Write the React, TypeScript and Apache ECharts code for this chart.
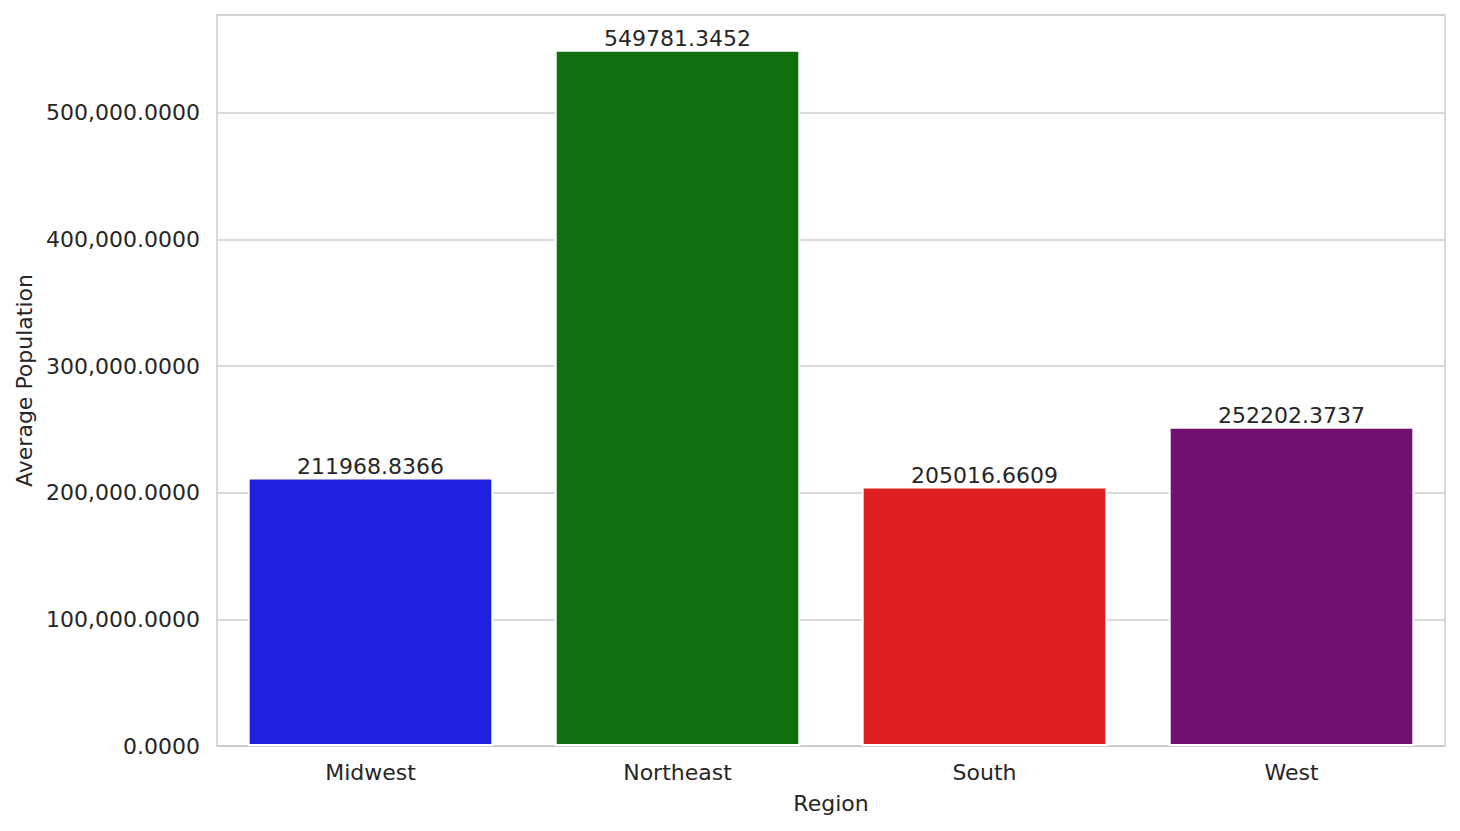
import React, { useEffect, useRef } from "react";
import * as echarts from "echarts";

const categories = ["Midwest", "Northeast", "South", "West"];
const values = [211968.8366, 549781.3452, 205016.6609, 252202.3737];
const barColors = ["#2020df", "#107010", "#df2020", "#701070"];
const yTicks = [0, 100000, 200000, 300000, 400000, 500000];

const FONT = "DejaVu Sans";
const TEXT = "#262626";
const GRID = "#cccccc";
const FS = 22;

function fmtTick(v: number): string {
  return v.toLocaleString("en-US", { minimumFractionDigits: 4, maximumFractionDigits: 4 });
}

export default function App() {
  const ref = useRef<HTMLDivElement>(null);
  useEffect(() => {
    if (!ref.current) return;
    const chart = echarts.init(ref.current, null, { renderer: "svg" });
    const yMax = Math.max(...values) * 1.05;
    chart.setOption({
      animation: false,
      backgroundColor: "#ffffff",
      grid: {
        left: 217,
        right: 15,
        top: 15,
        bottom: 85,
        show: true,
        borderColor: GRID,
        borderWidth: 1.5,
        backgroundColor: "transparent",
      },
      xAxis: {
        type: "category",
        data: categories,
        name: "Region",
        nameLocation: "middle",
        nameGap: 46,
        nameTextStyle: { fontFamily: FONT, fontSize: FS, color: TEXT },
        axisTick: { show: false },
        axisLine: { show: true, lineStyle: { color: GRID, width: 1.5 } },
        axisLabel: { fontFamily: FONT, fontSize: FS, color: TEXT, margin: 15 },
        splitLine: { show: false },
      },
      yAxis: {
        type: "value",
        min: 0,
        max: yMax,
        interval: 100000,
        name: "Average Population",
        nameLocation: "middle",
        nameGap: 180,
        nameTextStyle: { fontFamily: FONT, fontSize: FS, color: TEXT },
        axisLine: { show: false },
        axisTick: { show: false },
        axisLabel: {
          fontFamily: FONT,
          fontSize: FS,
          color: TEXT,
          margin: 17,
          showMaxLabel: false,
          formatter: (v: number) => (yTicks.includes(Math.round(v)) ? fmtTick(v) : ""),
        },
        splitLine: { show: true, lineStyle: { color: GRID, width: 1.5 } },
      },
      series: [
        {
          type: "bar",
          barWidth: "80%",
          data: values.map((v, i) => ({
            value: v,
            itemStyle: { color: barColors[i] },
          })),
          itemStyle: { borderColor: "#ffffff", borderWidth: 2 },
          label: {
            show: true,
            position: "top",
            distance: 0,
            fontFamily: FONT,
            fontSize: FS,
            color: TEXT,
            formatter: (p: any) => Number(p.value).toFixed(4),
          },
        },
      ],
    });
    return () => chart.dispose();
  }, []);
  return (
    <div
      ref={ref}
      style={{ position: "fixed", left: 0, top: 0, width: 1460, height: 831 }}
    />
  );
}
